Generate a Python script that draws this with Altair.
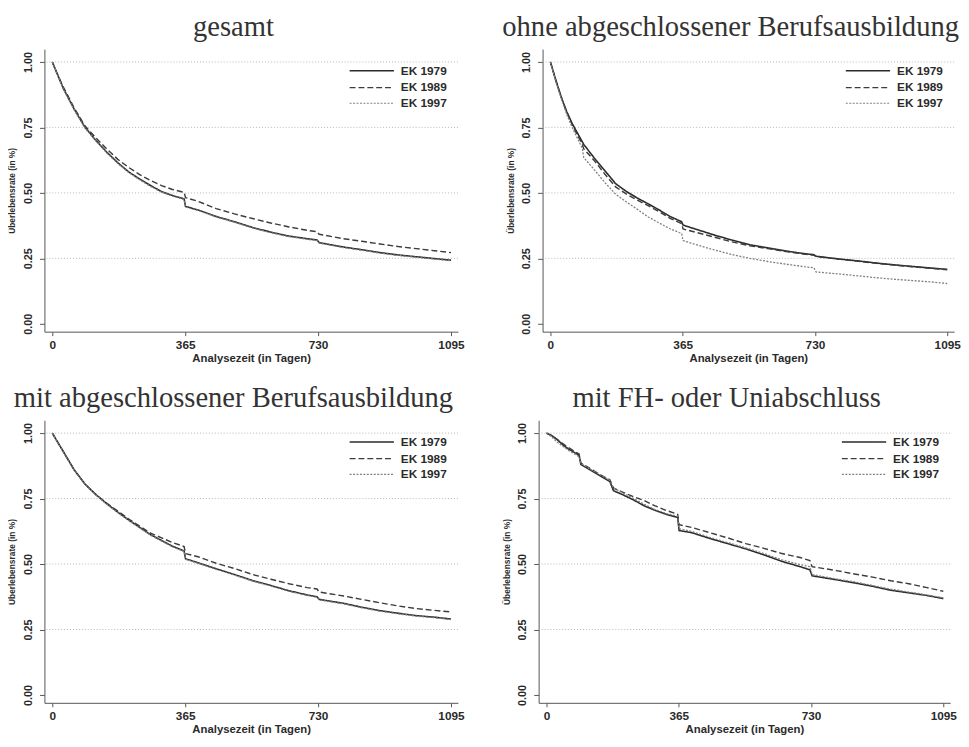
import altair as alt
import pandas as pd

SERIES = ["EK 1979", "EK 1989", "EK 1997"]
COLORS = ["#2b2b2b", "#3c3c3c", "#808080"]
DASHES = [[1, 0], [6, 3], [2, 1.5]]
WIDTHS = [1.6, 1.3, 1.2]
GRID = [0.25, 0.5, 0.75, 1.0]

# ---- gesamt
t_ges = [0, 15, 30, 45, 60, 90, 120, 150, 180, 210, 240, 270, 300, 330, 362, 366, 400, 450, 500,
         550, 600, 650, 700, 727, 733, 800, 850, 900, 950, 1000, 1050, 1095]
ges_79 = [1.0, 0.95, 0.90, 0.86, 0.82, 0.75, 0.70, 0.655, 0.615, 0.58, 0.553, 0.528, 0.505, 0.49,
          0.477, 0.448, 0.435, 0.41, 0.39, 0.368, 0.35, 0.335, 0.325, 0.32, 0.31, 0.293, 0.283,
          0.272, 0.263, 0.256, 0.249, 0.243]
ges_89 = [1.0, 0.95, 0.905, 0.865, 0.825, 0.755, 0.71, 0.667, 0.628, 0.597, 0.57, 0.547, 0.528,
          0.513, 0.502, 0.482, 0.468, 0.44, 0.42, 0.402, 0.385, 0.37, 0.357, 0.352, 0.342, 0.325,
          0.315, 0.305, 0.295, 0.287, 0.279, 0.272]
ges_97 = [1.0, 0.948, 0.897, 0.858, 0.818, 0.747, 0.698, 0.652, 0.612, 0.578, 0.55, 0.525, 0.503,
          0.488, 0.475, 0.446, 0.433, 0.408, 0.388, 0.366, 0.348, 0.333, 0.323, 0.318, 0.308,
          0.291, 0.281, 0.27, 0.261, 0.254, 0.247, 0.241]

# ---- ohne abgeschlossener Berufsausbildung
t_ohne = [0, 15, 30, 45, 60, 88, 92, 120, 150, 180, 210, 240, 270, 300, 330, 362, 366, 400, 450,
          500, 550, 600, 650, 700, 727, 733, 800, 850, 900, 950, 1000, 1050, 1095]
ohne_79 = [1.0, 0.93, 0.865, 0.81, 0.765, 0.695, 0.685, 0.635, 0.585, 0.535, 0.505, 0.48, 0.458,
           0.435, 0.41, 0.39, 0.377, 0.362, 0.34, 0.32, 0.302, 0.29, 0.278, 0.268, 0.264, 0.258,
           0.247, 0.24, 0.232, 0.225, 0.219, 0.213, 0.208]
ohne_89 = [1.0, 0.93, 0.865, 0.81, 0.76, 0.685, 0.668, 0.625, 0.572, 0.523, 0.495, 0.472, 0.451,
           0.428, 0.403, 0.383, 0.362, 0.35, 0.332, 0.313, 0.298, 0.287, 0.276, 0.266, 0.262,
           0.257, 0.246, 0.239, 0.231, 0.224, 0.218, 0.212, 0.206]
ohne_97 = [1.0, 0.925, 0.86, 0.80, 0.75, 0.67, 0.635, 0.59, 0.54, 0.495, 0.465, 0.437, 0.408,
           0.385, 0.363, 0.345, 0.318, 0.303, 0.283, 0.265, 0.25, 0.238, 0.228, 0.218, 0.214,
           0.198, 0.19, 0.183, 0.176, 0.17, 0.165, 0.16, 0.154]

# ---- mit abgeschlossener Berufsausbildung
t_mit = t_ges
mit_79 = [1.0, 0.965, 0.93, 0.895, 0.86, 0.805, 0.765, 0.73, 0.698, 0.668, 0.64, 0.612, 0.59,
          0.568, 0.55, 0.52, 0.505, 0.482, 0.46, 0.437, 0.418, 0.398, 0.382, 0.375, 0.365, 0.35,
          0.335, 0.322, 0.312, 0.303, 0.297, 0.29]
mit_89 = [1.0, 0.965, 0.93, 0.895, 0.86, 0.805, 0.765, 0.732, 0.702, 0.672, 0.645, 0.618, 0.60,
          0.582, 0.567, 0.54, 0.528, 0.503, 0.483, 0.46, 0.442, 0.425, 0.41, 0.405, 0.393, 0.378,
          0.365, 0.352, 0.34, 0.33, 0.323, 0.317]
mit_97 = [1.0, 0.963, 0.928, 0.893, 0.858, 0.803, 0.763, 0.728, 0.696, 0.666, 0.638, 0.61, 0.588,
          0.566, 0.548, 0.518, 0.503, 0.48, 0.458, 0.435, 0.416, 0.396, 0.38, 0.373, 0.363, 0.348,
          0.333, 0.32, 0.31, 0.301, 0.295, 0.288]

# ---- mit FH- oder Uniabschluss
t_fh = [0, 15, 30, 45, 60, 90, 95, 120, 150, 175, 185, 210, 240, 270, 300, 330, 362, 366, 400,
        450, 500, 550, 600, 650, 700, 727, 733, 800, 850, 900, 950, 1000, 1050, 1095]
fh_79 = [1.0, 0.99, 0.975, 0.955, 0.94, 0.915, 0.88, 0.86, 0.835, 0.815, 0.78, 0.765, 0.745,
         0.722, 0.705, 0.69, 0.678, 0.628, 0.62, 0.598, 0.578, 0.558, 0.535, 0.51, 0.49, 0.478,
         0.455, 0.44, 0.428, 0.415, 0.40, 0.39, 0.38, 0.368]
fh_89 = [1.0, 0.99, 0.975, 0.96, 0.945, 0.92, 0.885, 0.865, 0.84, 0.822, 0.79, 0.775, 0.757,
         0.742, 0.722, 0.705, 0.69, 0.65, 0.64, 0.62, 0.60, 0.578, 0.56, 0.54, 0.525, 0.513,
         0.49, 0.475, 0.462, 0.45, 0.436, 0.425, 0.41, 0.396]
fh_97 = [1.0, 0.985, 0.965, 0.95, 0.935, 0.91, 0.885, 0.863, 0.84, 0.82, 0.79, 0.772, 0.75,
         0.728, 0.708, 0.693, 0.682, 0.635, 0.625, 0.602, 0.582, 0.562, 0.54, 0.516, 0.498,
         0.49, 0.46, 0.443, 0.432, 0.418, 0.404, 0.393, 0.382, 0.371]

TITLES = ["gesamt", "ohne abgeschlossener Berufsausbildung",
          "mit abgeschlossener Berufsausbildung", "mit FH- oder Uniabschluss"]

X_TICKS = [0, 365, 730, 1095]
Y_TICKS = [0.0, 0.25, 0.5, 0.75, 1.0]

H = 287
LEG_Y = [22, 39, 55]


def panel(title, times, s79, s89, s97, width):
    rows = []
    for name, vals in zip(SERIES, [s79, s89, s97]):
        for t, v in zip(times, vals):
            rows.append({"day": t, "value": v, "series": name})
    df = pd.DataFrame(rows)
    xs = alt.Scale(domain=[-21.6, 1114], nice=False, zero=False)
    ys = alt.Scale(domain=[-0.030, 1.049], nice=False, zero=False)
    yaxis = alt.Axis(values=Y_TICKS, title="Überlebensrate (in %)", grid=False,
                     format=".2f", labelAngle=270)
    xaxis = alt.Axis(values=X_TICKS, title="Analysezeit (in Tagen)", grid=False, format="d")

    grid = alt.Chart(pd.DataFrame({"value": GRID})).mark_rule(
        color="#b8b8b8", strokeDash=[1, 2], strokeWidth=1
    ).encode(y=alt.Y("value:Q", scale=ys, axis=yaxis))

    lines = alt.Chart(df).mark_line().encode(
        x=alt.X("day:Q", scale=xs, axis=xaxis),
        y=alt.Y("value:Q", scale=ys, axis=yaxis),
        color=alt.Color("series:N", scale=alt.Scale(domain=SERIES, range=COLORS), legend=None),
        strokeDash=alt.StrokeDash("series:N", scale=alt.Scale(domain=SERIES, range=DASHES),
                                  legend=None),
        strokeWidth=alt.StrokeWidth("series:N", scale=alt.Scale(domain=SERIES, range=WIDTHS),
                                    legend=None),
    )

    lx = width - 110
    layers = [grid, lines]
    for i, s in enumerate(SERIES):
        d = pd.DataFrame({"s": [s]})
        layers.append(alt.Chart(d).mark_rule(
            color=COLORS[i], strokeDash=DASHES[i], strokeWidth=WIDTHS[i]
        ).encode(x=alt.value(lx), x2=alt.value(lx + 45), y=alt.value(LEG_Y[i])))
        layers.append(alt.Chart(d).mark_text(
            align="left", baseline="middle", font="Liberation Sans", fontSize=12,
            fontWeight="bold", color="#2a2a2a"
        ).encode(x=alt.value(lx + 52), y=alt.value(LEG_Y[i]), text="s:N"))

    return alt.layer(*layers).properties(
        width=width, height=H,
        title=alt.TitleParams(title, font="Liberation Serif", fontSize=29, fontWeight="normal",
                              color="#333333", anchor="middle", offset=7, dx=-18),
    )


p1 = panel(TITLES[0], t_ges, ges_79, ges_89, ges_97, 420)
p2 = panel(TITLES[1], t_ohne, ohne_79, ohne_89, ohne_97, 418)
p3 = panel(TITLES[2], t_mit, mit_79, mit_89, mit_97, 420)
p4 = panel(TITLES[3], t_fh, fh_79, fh_89, fh_97, 418)

chart = alt.vconcat(
    alt.hconcat(p1, p2, spacing=38),
    alt.hconcat(p3, p4, spacing=38),
    spacing=21,
).properties(padding=0).configure_view(stroke=None).configure_axis(
    domainColor="#555555", tickColor="#555555", labelColor="#2a2a2a",
    labelFont="Liberation Sans", labelFontSize=12, labelFontWeight="bold",
    titleFont="Liberation Sans", titleColor="#2a2a2a", titleFontWeight="bold",
).configure_axisX(
    tickSize=4, labelPadding=4, titleFontSize=11.5, titlePadding=2,
).configure_axisY(
    tickSize=5, labelPadding=6, titleFontSize=8.5, titlePadding=6, labelFontSize=11,
)

chart.save("out.html", embed_options={"renderer": "svg", "actions": False})
